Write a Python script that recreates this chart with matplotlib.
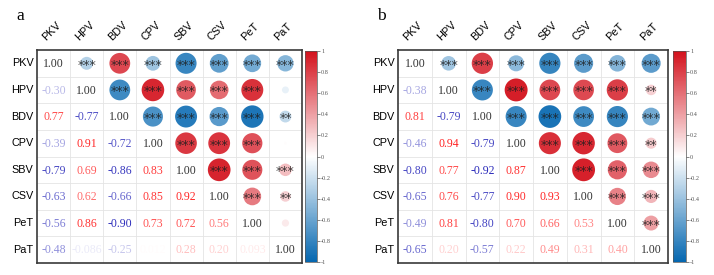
import numpy as np
import matplotlib
matplotlib.use('Agg')
import matplotlib.pyplot as plt
from matplotlib.colors import LinearSegmentedColormap, Normalize
import matplotlib.cm as cm

# variable names
names = ['PKV', 'HPV', 'BDV', 'CPV', 'SBV', 'CSV', 'PeT', 'PaT']

# lower triangle correlations, row by row (row i has i values)
lower_a = [[],
           [-0.30],
           [0.77, -0.77],
           [-0.39, 0.91, -0.72],
           [-0.79, 0.69, -0.86, 0.83],
           [-0.63, 0.62, -0.66, 0.85, 0.92],
           [-0.56, 0.86, -0.90, 0.73, 0.72, 0.56],
           [-0.48, -0.086, -0.25, 0.012, 0.28, 0.20, 0.093]]

lower_b = [[],
           [-0.38],
           [0.81, -0.79],
           [-0.46, 0.94, -0.79],
           [-0.80, 0.77, -0.92, 0.87],
           [-0.65, 0.76, -0.77, 0.90, 0.93],
           [-0.49, 0.81, -0.80, 0.70, 0.66, 0.53],
           [-0.65, 0.20, -0.57, 0.22, 0.49, 0.31, 0.40]]

# significance stars for the upper triangle, row by row (columns i+1..7)
stars_a = [[3, 3, 3, 3, 3, 3, 3],
           [3, 3, 3, 3, 3, 0],
           [3, 3, 3, 3, 2],
           [3, 3, 3, 0],
           [3, 3, 3],
           [3, 2],
           [0],
           []]

stars_b = [[3, 3, 3, 3, 3, 3, 3],
           [3, 3, 3, 3, 3, 2],
           [3, 3, 3, 3, 3],
           [3, 3, 3, 2],
           [3, 3, 3],
           [3, 3],
           [3],
           []]

cbar_ticks = [1, 0.8, 0.6, 0.4, 0.2, 0, -0.2, -0.4, -0.6, -0.8, -1]
cbar_labels = ['1', '0.8', '0.6', '0.4', '0.2', '0', '-0.2', '-0.4', '-0.6', '-0.8', '-1']

circ_cmap = LinearSegmentedColormap.from_list('circ', ['#0567b0', '#ffffff', '#d3111c'])
text_cmap = LinearSegmentedColormap.from_list('txt', ['#1818b4', '#ffffff', '#ff1414'])
norm = Normalize(-1, 1)


def full_matrix(lower):
    n = len(names)
    m = np.eye(n)
    for i in range(n):
        for j, v in enumerate(lower[i]):
            m[i, j] = v
            m[j, i] = v
    return m


def fmt(v):
    if abs(v) < 0.1:
        return '%.2g' % v
    return '%.2f' % v


def draw_panel(ax, cax, lower, stars, letter, fig):
    n = len(names)
    m = full_matrix(lower)
    ax.set_xlim(0, n)
    ax.set_ylim(n, 0)
    ax.set_xticks([])
    ax.set_yticks([])
    for s in ax.spines.values():
        s.set_linewidth(1.2)
        s.set_color('#3a3a3a')
    # grid
    for k in range(1, n):
        ax.axhline(k, color='#e4e4e4', lw=0.6, zorder=0)
        ax.axvline(k, color='#e4e4e4', lw=0.6, zorder=0)

    # upper triangle circles
    xs, ys, vs = [], [], []
    for i in range(n):
        for j in range(i + 1, n):
            xs.append(j + 0.5)
            ys.append(i + 0.5)
            vs.append(m[i, j])
    vs = np.array(vs)
    ax.scatter(xs, ys, s=290 * np.abs(vs), c=vs, cmap=circ_cmap, norm=norm,
               linewidths=0, zorder=2)
    for i in range(n):
        for k, st in enumerate(stars[i]):
            j = i + 1 + k
            if st > 0:
                ax.text(j + 0.5, i + 0.52, '*' * st, ha='center', va='center_baseline',
                        fontsize=9, color='#1e1e1e', alpha=0.85, zorder=3,
                        family='DejaVu Sans')

    # lower triangle numbers + diagonal
    for i in range(n):
        for j in range(i + 1):
            v = m[i, j]
            col = '#333333' if i == j else text_cmap(norm(v))
            ax.text(j + 0.5, i + 0.53, fmt(v), ha='center', va='center',
                    fontsize=8.5, color=col, family='Liberation Serif', zorder=3)

    # labels
    for k, nm in enumerate(names):
        ax.text(-0.1, k + 0.5, nm, ha='right', va='center', fontsize=7.8,
                family='Liberation Sans', clip_on=False)
        ax.text(k + 0.32, -0.28, nm, ha='left', va='bottom', fontsize=7.8,
                family='Liberation Sans', rotation=45, rotation_mode='anchor',
                clip_on=False)

    # colorbar
    sm = cm.ScalarMappable(norm=norm, cmap=circ_cmap)
    cb = fig.colorbar(sm, cax=cax, ticks=cbar_ticks)
    cb.set_ticklabels(cbar_labels)
    cb.outline.set_linewidth(0.5)
    cb.outline.set_edgecolor('#555555')
    cax.tick_params(labelsize=4.5, length=2, width=0.5, pad=1, colors='#555555')
    for t in cax.get_yticklabels():
        t.set_family('Liberation Serif')

    fig.text(ax.get_position().x0 - 0.024, 0.94, letter, fontsize=12.5,
             family='Liberation Serif', ha='center', va='center')


fig = plt.figure(figsize=(7.14, 2.75), dpi=100)
ax_a = fig.add_axes([37 / 714, 1 - 263 / 275, 265 / 714, 213 / 275])
cax_a = fig.add_axes([305 / 714, 1 - 262 / 275, 12 / 714, 211 / 275])
ax_b = fig.add_axes([398 / 714, 1 - 263 / 275, 270 / 714, 213 / 275])
cax_b = fig.add_axes([673 / 714, 1 - 262 / 275, 13 / 714, 211 / 275])

draw_panel(ax_a, cax_a, lower_a, stars_a, 'a', fig)
draw_panel(ax_b, cax_b, lower_b, stars_b, 'b', fig)

fig.savefig('out.png', dpi=100)
